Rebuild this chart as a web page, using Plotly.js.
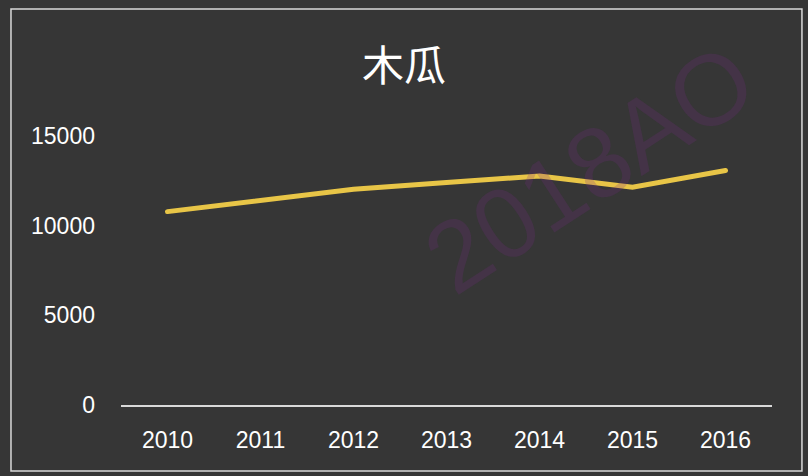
<!DOCTYPE html>
<html>
<head>
<meta charset="utf-8">
<script src="https://cdn.plot.ly/plotly-3.0.1.min.js"></script>
<style>
html,body{margin:0;padding:0;background:#363636;}
#chart{width:808px;height:476px;}
#chart .scatterlayer path.js-line{stroke-linecap:round;}
</style>
</head>
<body>
<div id="chart"></div>
<script>
const years = ['2010','2011','2012','2013','2014','2015','2016'];
const values = [10780, 11395, 12030, 12400, 12770, 12140, 13070];
const chartTitle = '木瓜';
const yTicks = [0, 5000, 10000, 15000];
const watermark = '2018AO';

const trace = {
  x: years,
  y: values,
  type: 'scatter',
  mode: 'lines',
  line: {color: '#E8C547', width: 5},
  hoverinfo: 'skip'
};

const wmColor = 'rgba(120,40,130,0.22)';
const layout = {
  width: 808,
  height: 476,
  paper_bgcolor: '#363636',
  plot_bgcolor: '#363636',
  margin: {l: 121, r: 36, t: 109, b: 71},
  showlegend: false,
  title: {
    text: chartTitle,
    font: {family: 'Noto Sans CJK SC, sans-serif', size: 42, color: '#ffffff'},
    x: 0.5, xanchor: 'center', y: 0.86, yanchor: 'middle'
  },
  xaxis: {
    type: 'category',
    range: [-0.5, 6.5],
    showgrid: false,
    zeroline: false,
    showline: true,
    linecolor: '#d9d9d9',
    linewidth: 1.5,
    ticks: '',
    ticklabelstandoff: 14,
    tickfont: {family: 'Liberation Sans, Arial, sans-serif', size: 23, color: '#ffffff'},
    fixedrange: true
  },
  yaxis: {
    range: [0, 16500],
    tickvals: yTicks,
    ticktext: yTicks.map(String),
    showgrid: false,
    zeroline: false,
    showline: false,
    ticks: '',
    ticklabelstandoff: 25,
    tickfont: {family: 'Liberation Sans, Arial, sans-serif', size: 23, color: '#ffffff'},
    fixedrange: true
  },
  shapes: [{
    type: 'rect', xref: 'paper', yref: 'paper',
    x0: -0.169, x1: 1.046, y0: -0.223, y1: 1.338,
    line: {color: '#d9d9d9', width: 1.5},
    fillcolor: 'rgba(0,0,0,0)'
  }],
  annotations: [
    {text: watermark, xref: 'paper', yref: 'paper', x: 0.72, y: 0.80,
     xanchor: 'center', yanchor: 'middle', showarrow: false,
     textangle: -33, font: {family: 'Liberation Sans, Arial, sans-serif', size: 100, color: wmColor}}
  ]
};

Plotly.newPlot('chart', [trace], layout, {displayModeBar: false, staticPlot: true});
</script>
</body>
</html>
